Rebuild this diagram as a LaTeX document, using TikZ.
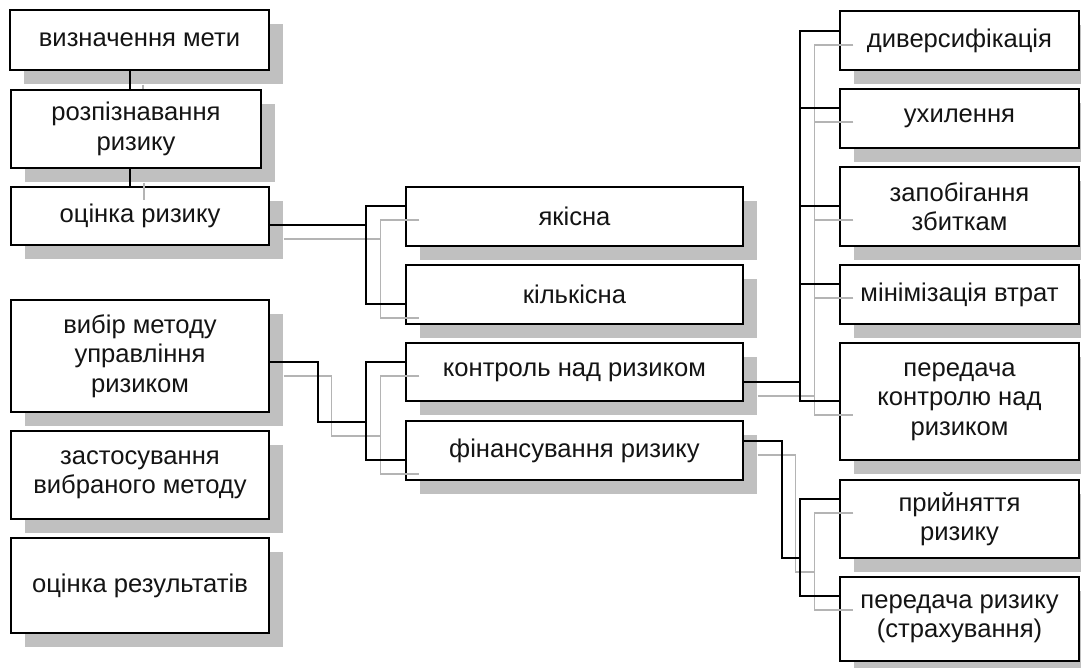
\documentclass[tikz,border=0pt]{standalone}
\usepackage{fontspec}
\setmainfont{Liberation Sans}
\usetikzlibrary{shadows}
\definecolor{shadowc}{RGB}{192,192,192}
\definecolor{glinec}{RGB}{180,180,180}
\definecolor{txtc}{RGB}{20,20,20}
\begin{document}
\begin{tikzpicture}[x=1pt,y=-1pt,
  box/.style={draw=black, line width=1.4pt, fill=white, inner sep=0pt,
    align=center, text=txtc, font=\fontsize{25.6}{29.4}\selectfont,
    drop shadow={shadow xshift=14pt, shadow yshift=-14pt, fill=shadowc, opacity=1}},
  bline/.style={draw=black, line width=2pt},
  gline/.style={draw=glinec, line width=1.5pt},
  gsh/.style={gline, transform canvas={shift={(14pt,-14pt)}}}]
\useasboundingbox (0,0) rectangle (1081,668);
% left column
\node[box, minimum width=259pt, minimum height=60pt]  (b1) at (139.5,40)  {визначення мети};
\node[box, minimum width=250pt, minimum height=78pt]  (b2) at (136,129)   {розпізнавання\\ризику};
\node[box, minimum width=258pt, minimum height=58pt]  (b3) at (140,216)   {оцінка ризику};
\node[box, minimum width=258pt, minimum height=112pt] (b4) at (140,356)   {вибір методу\\управління\\ризиком};
\node[box, minimum width=258pt, minimum height=88pt]  (b5) at (140,475)   {застосування\\вибраного методу};
\node[box, minimum width=258pt, minimum height=95pt]  (b6) at (140,585.5) {оцінка результатів};
% middle column
\node[box, minimum width=337pt, minimum height=59pt] (m1) at (574.5,216.5) {якісна};
\node[box, minimum width=337pt, minimum height=59pt] (m2) at (574.5,294.5) {кількісна};
\node[box, minimum width=337pt, minimum height=58pt] (m3) at (574.5,372)   {контроль над ризиком};
\node[box, minimum width=337pt, minimum height=59pt] (m4) at (574.5,450.5) {фінансування ризику};
% right column
\node[box, minimum width=239pt, minimum height=59pt]  (r1) at (959.5,40.5)  {диверсифікація};
\node[box, minimum width=239pt, minimum height=59pt]  (r2) at (959.5,118.5) {ухилення};
\node[box, minimum width=239pt, minimum height=79pt]  (r3) at (959.5,206.5) {запобігання\\збиткам};
\node[box, minimum width=239pt, minimum height=59pt]  (r4) at (959.5,294.5) {мінімізація втрат};
\node[box, minimum width=239pt, minimum height=117pt] (r5) at (959.5,401.5) {передача\\контролю над\\ризиком};
\node[box, minimum width=239pt, minimum height=78pt]  (r6) at (959.5,519)   {прийняття\\ризику};
\node[box, minimum width=239pt, minimum height=84pt]  (r7) at (959.5,619)   {передача ризику\\(страхування)};
% junction coordinates
\coordinate (j1) at (367,225);
\coordinate (j2) at (367,422);
\coordinate (j3) at (801,382);
\coordinate (j4) at (801,558);
% ---- grey (shadow) connectors
\draw[gline] ([shift={(3.5pt,-14pt)}]b1.south) -- ([xshift=7pt]b2.north);
\draw[gsh] ([xshift=-6pt]b2.south) -- ([xshift=-10pt]b3.north);
\draw[gsh] ([yshift=-9pt]b3.east) -- (j1);
\draw[gsh] ([yshift=10.5pt]m1.west) -- ++(-39,0) |- ([yshift=-9.5pt]m2.west);
\draw[gsh] ([yshift=-6pt]b4.east) -- ++(48,0) |- (j2);
\draw[gsh] ([yshift=10pt]m3.west) -- ++(-39,0) |- ([yshift=-9.5pt]m4.west);
\draw[gsh] ([yshift=-10pt]m3.east) -- (j3);
\draw[gsh] ([yshift=9.5pt]r1.west) -- ++(-39,0) |- ([yshift=0.5pt]r5.west);
\draw[gsh] ([yshift=10.5pt]r2.west) -- ++(-39,0);
\draw[gsh] ([yshift=0.5pt]r3.west) -- ++(-39,0);
\draw[gsh] ([yshift=10.5pt]r4.west) -- ++(-39,0);
\draw[gsh] ([yshift=9.5pt]m4.east) -- ++(38,0) |- (j4);
\draw[gsh] ([yshift=20pt]r6.west) -- ++(-39,0) |- ([yshift=23pt]r7.west);
% ---- black connectors
\draw[bline] ([xshift=-9.5pt]b1.south) -- ([xshift=-6pt]b2.north);
\draw[bline] ([xshift=-6pt]b2.south) -- ([xshift=-10pt]b3.north);
\draw[bline] ([yshift=-9pt]b3.east) -- (j1);
\draw[bline] ([yshift=10.5pt]m1.west) -- ++(-39,0) |- ([yshift=-9.5pt]m2.west);
\draw[bline] ([yshift=-6pt]b4.east) -- ++(48,0) |- (j2);
\draw[bline] ([yshift=10pt]m3.west) -- ++(-39,0) |- ([yshift=-9.5pt]m4.west);
\draw[bline] ([yshift=-10pt]m3.east) -- (j3);
\draw[bline] ([yshift=9.5pt]r1.west) -- ++(-39,0) |- ([yshift=0.5pt]r5.west);
\draw[bline] ([yshift=10.5pt]r2.west) -- ++(-39,0);
\draw[bline] ([yshift=0.5pt]r3.west) -- ++(-39,0);
\draw[bline] ([yshift=10.5pt]r4.west) -- ++(-39,0);
\draw[bline] ([yshift=9.5pt]m4.east) -- ++(38,0) |- (j4);
\draw[bline] ([yshift=20pt]r6.west) -- ++(-39,0) |- ([yshift=23pt]r7.west);
\end{tikzpicture}
\end{document}
